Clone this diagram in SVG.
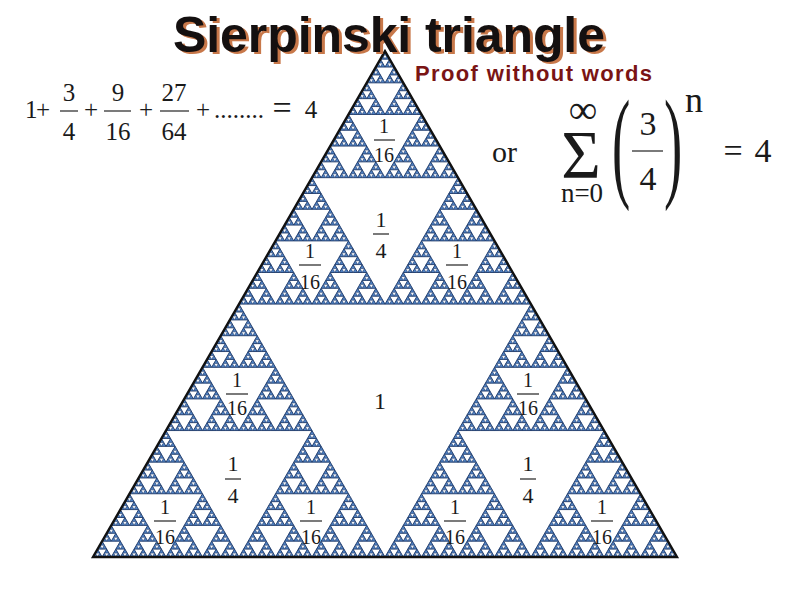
<svg xmlns="http://www.w3.org/2000/svg" xmlns:xlink="http://www.w3.org/1999/xlink" width="800" height="600" viewBox="0 0 800 600">
<style>
.m{font-family:"Liberation Serif","Times New Roman",serif;fill:#1a1a1a}
.f18{font-size:20px;text-anchor:middle}
.f22{font-size:22px;text-anchor:middle}
.f25{font-size:25px;text-anchor:middle}
.bar{stroke:#222;stroke-width:1.2}
.tri{fill:#4f82c4;stroke:#1c3868;stroke-width:0.9;stroke-linejoin:round}
.hole{fill:#f4f7fb;stroke:#1c3868;stroke-width:0.6;stroke-linejoin:round}
</style>
<defs>
<g id="t1"><polygon class="tri" points="0,0 9.125,0 4.5625,-7.9026"/><polygon class="hole" points="2.28125,-3.9513 6.84375,-3.9513 4.5625,0"/></g>
<g id="t2"><use xlink:href="#t1"/><use xlink:href="#t1" x="9.125"/><use xlink:href="#t1" x="4.5625" y="-7.9026"/></g>
<g id="t3"><use xlink:href="#t2"/><use xlink:href="#t2" x="18.25"/><use xlink:href="#t2" x="9.125" y="-15.8052"/></g>
<g id="t4"><use xlink:href="#t3"/><use xlink:href="#t3" x="36.5"/><use xlink:href="#t3" x="18.25" y="-31.6104"/></g>
<g id="t5"><use xlink:href="#t4"/><use xlink:href="#t4" x="73"/><use xlink:href="#t4" x="36.5" y="-63.2208"/></g>
<g id="t6"><use xlink:href="#t5"/><use xlink:href="#t5" x="146"/><use xlink:href="#t5" x="73" y="-126.4416"/></g>
<g id="t7"><use xlink:href="#t6"/><use xlink:href="#t6" x="292"/><use xlink:href="#t6" x="146" y="-252.8832"/></g>
</defs>
<rect width="800" height="600" fill="#ffffff"/>

<g id="sierpinski">
<use xlink:href="#t7" x="93" y="557"/>
<polygon points="93,557 677,557 385,51.24" fill="none" stroke="#111" stroke-width="2.4" stroke-linejoin="miter"/>
</g>

<g id="title">
<text x="176" y="54" font-family="Liberation Sans, Arial, sans-serif" font-weight="bold" font-size="50" textLength="432" fill="#c8784a">Sierpinski triangle</text>
<text x="173" y="52" font-family="Liberation Sans, Arial, sans-serif" font-weight="bold" font-size="50" textLength="432" fill="#141010">Sierpinski triangle</text>
<text x="415" y="81" font-family="Liberation Sans, Arial, sans-serif" font-weight="bold" font-size="22" textLength="237" fill="#7a1414">Proof without words</text>
</g>

<g id="series" class="m">
<text x="25" y="118" font-size="25">1</text>
<text x="43" y="118" class="f25">+</text>
<text x="69" y="101" class="f25">3</text>
<line class="bar" x1="60" y1="111" x2="78" y2="111"/>
<text x="69" y="140" class="f25">4</text>
<text x="91" y="118" class="f25">+</text>
<text x="118" y="101" class="f25">9</text>
<line class="bar" x1="104" y1="111" x2="131" y2="111"/>
<text x="118" y="140" class="f25">16</text>
<text x="146" y="118" class="f25">+</text>
<text x="174" y="101" class="f25">27</text>
<line class="bar" x1="160" y1="111" x2="189" y2="111"/>
<text x="174" y="140" class="f25">64</text>
<text x="203" y="118" class="f25">+</text>
<text x="214" y="118" font-size="25" textLength="50">........</text>
<text x="282" y="119" font-size="34" text-anchor="middle">=</text>
<text x="311" y="118" class="f25">4</text>
</g>

<g id="sum" class="m">
<text x="492" y="162" font-size="30">or</text>
<text x="583" y="123" font-size="40" text-anchor="middle">∞</text>
<text x="581" y="177" font-size="68" text-anchor="middle">Σ</text>
<text x="582" y="202" font-size="27" text-anchor="middle">n=0</text>
<text transform="translate(612,185) scale(0.45,1)" font-size="122">(</text>
<text x="648" y="135" font-size="34" text-anchor="middle">3</text>
<line class="bar" x1="632" y1="151" x2="663" y2="151" stroke-width="1.5"/>
<text x="648" y="190" font-size="34" text-anchor="middle">4</text>
<text transform="translate(664,185) scale(0.45,1)" font-size="122">)</text>
<text x="694" y="112" font-size="36" text-anchor="middle">n</text>
<text x="733" y="162" font-size="34" text-anchor="middle">=</text>
<text x="763" y="162" font-size="34" text-anchor="middle">4</text>
</g>

<g id="labels" class="m">
<g id="l1"><text x="384" y="133" class="f18">1</text><line class="bar" x1="374" y1="140" x2="395" y2="140"/><text x="384" y="162" class="f18">16</text></g>
<g id="l2"><text x="381" y="227" class="f22">1</text><line class="bar" x1="373" y1="234" x2="389" y2="234"/><text x="381" y="258" class="f22">4</text></g>
<g id="l3"><text x="310" y="258" class="f18">1</text><line class="bar" x1="299" y1="265" x2="321" y2="265"/><text x="310" y="289" class="f18">16</text></g>
<g id="l4"><text x="457" y="258" class="f18">1</text><line class="bar" x1="446" y1="265" x2="468" y2="265"/><text x="457" y="289" class="f18">16</text></g>
<g id="l5"><text x="237" y="387" class="f18">1</text><line class="bar" x1="226" y1="394" x2="248" y2="394"/><text x="237" y="415" class="f18">16</text></g>
<g id="l6"><text x="528" y="387" class="f18">1</text><line class="bar" x1="517" y1="394" x2="539" y2="394"/><text x="528" y="415" class="f18">16</text></g>
<g id="l7"><text x="380" y="409" font-size="24" text-anchor="middle">1</text></g>
<g id="l8"><text x="233" y="471" class="f22">1</text><line class="bar" x1="225" y1="479" x2="241" y2="479"/><text x="233" y="503" class="f22">4</text></g>
<g id="l9"><text x="528" y="471" class="f22">1</text><line class="bar" x1="520" y1="479" x2="536" y2="479"/><text x="528" y="503" class="f22">4</text></g>
<g id="l10"><text x="165" y="514" class="f18">1</text><line class="bar" x1="154" y1="521" x2="176" y2="521"/><text x="165" y="544" class="f18">16</text></g>
<g id="l11"><text x="311" y="514" class="f18">1</text><line class="bar" x1="300" y1="521" x2="322" y2="521"/><text x="311" y="544" class="f18">16</text></g>
<g id="l12"><text x="455" y="514" class="f18">1</text><line class="bar" x1="444" y1="521" x2="466" y2="521"/><text x="455" y="544" class="f18">16</text></g>
<g id="l13"><text x="602" y="514" class="f18">1</text><line class="bar" x1="591" y1="521" x2="613" y2="521"/><text x="602" y="544" class="f18">16</text></g>
</g>
</svg>
